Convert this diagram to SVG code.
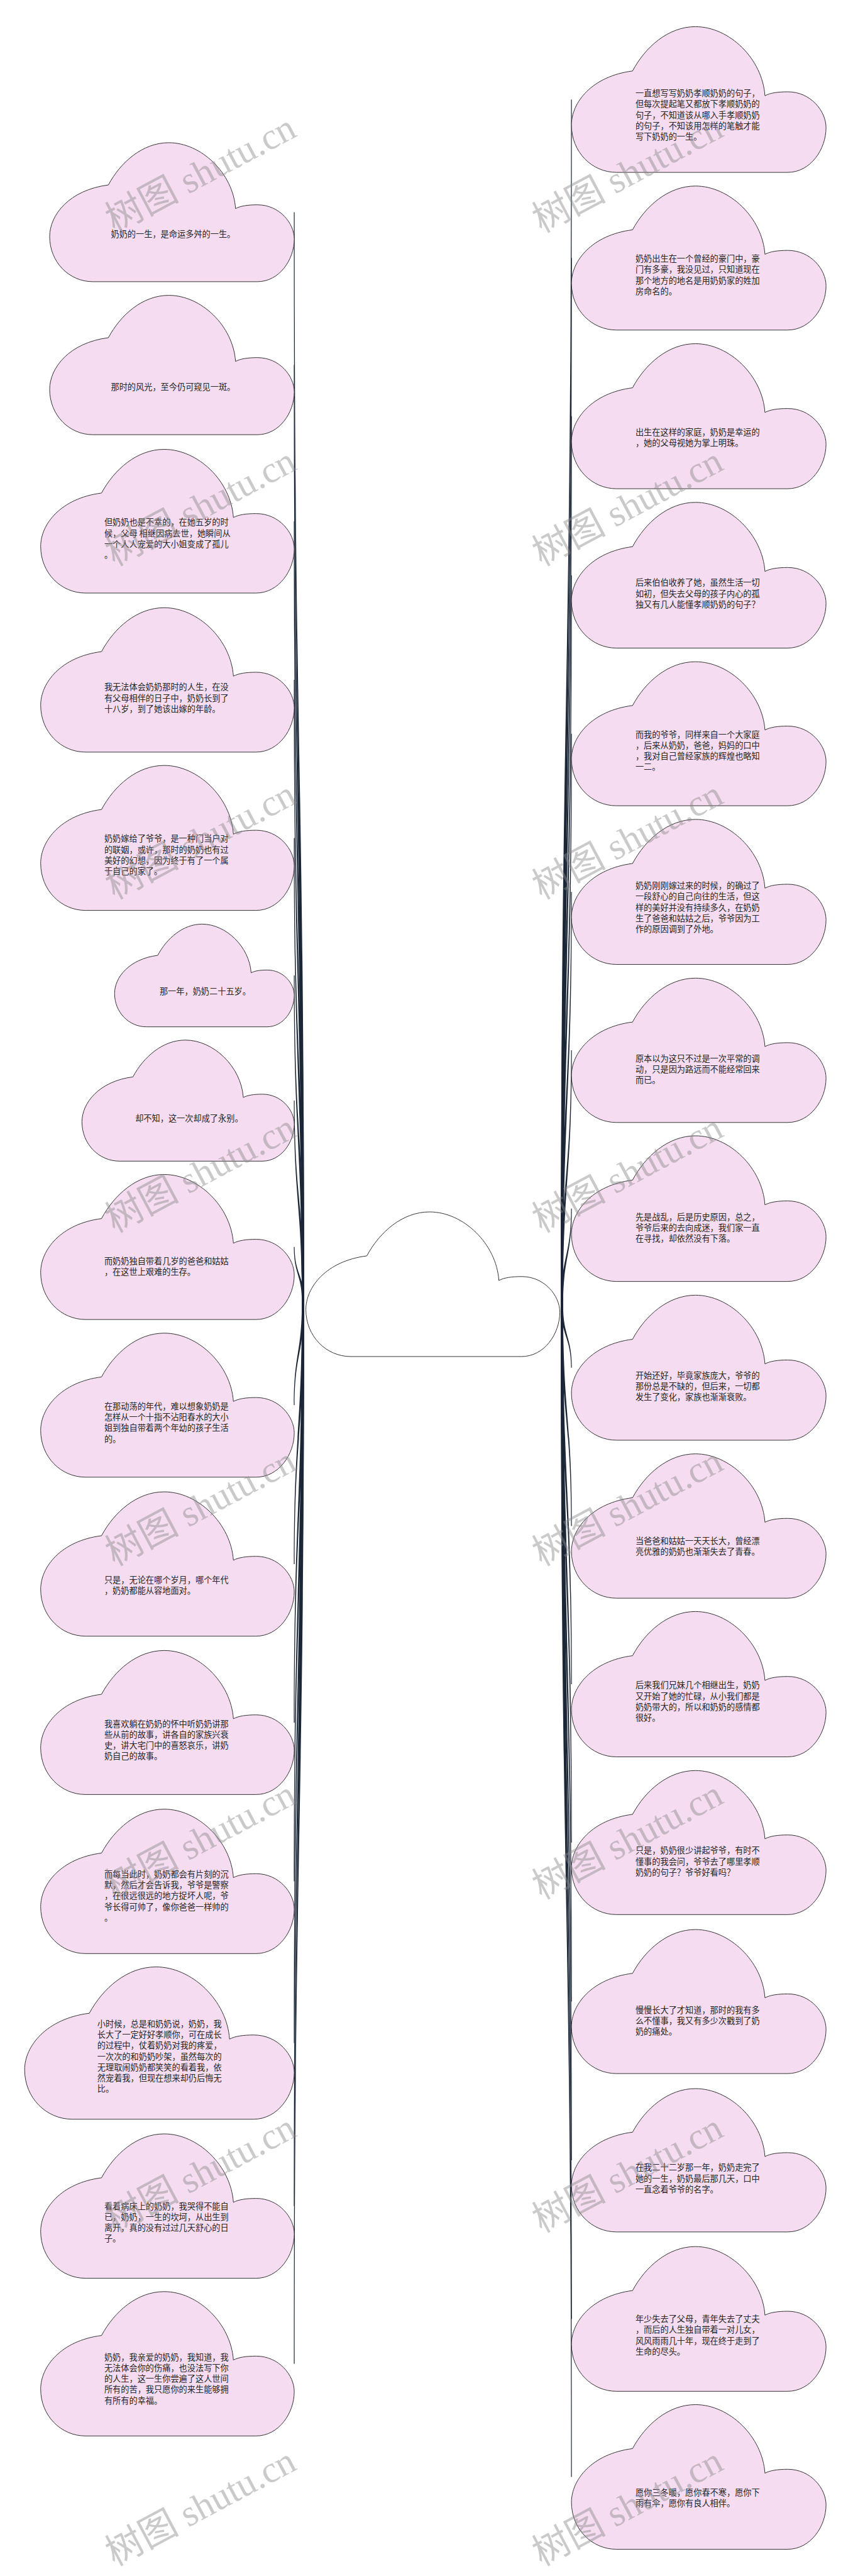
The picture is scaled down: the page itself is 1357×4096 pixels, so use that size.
<svg xmlns="http://www.w3.org/2000/svg" xmlns:xlink="http://www.w3.org/1999/xlink" width="1357" height="4096" viewBox="0 0 1357 4096">
<style>
.n{fill:#f5dcf0;stroke:#333;stroke-width:1}
.root{fill:#ffffff;stroke:#333;stroke-width:1}
.t{font-family:"Noto Sans CJK SC","Noto Sans",sans-serif;font-size:13.2px;fill:#262626}
.c{fill:#1b2636;stroke:none}
.wm{font-family:"Liberation Serif","Noto Sans CJK SC",serif;font-size:59px;fill:#8a8a8a;fill-opacity:0.45}
</style>
<defs>
<path id="cloud" vector-effect="non-scaling-stroke" d="M24,30.4 C29,14 38,0 48.7,0 C62,0 75,22 76,47.4 C78,45.5 81,44.7 85,44.7 C94,44.7 100,58 100,69.3 C100,84 94,100 84.9,100 L17.7,100 C8,100 0,86 0,67.5 C0,52 8,34 24,30.4 Z"/>
</defs>
<rect width="1357" height="4096" fill="#ffffff"/>
<g id="connectors">
<path class="c" d="M467.5,337.4 C467.5,1203.7 480.2,1203.7 480.2,2070 L483.8,2070 C483.8,1203.7 468.7,1203.7 468.7,337.4 Z"/>
<path class="c" d="M467.5,580.4 C467.5,1325.2 480.2,1325.2 480.2,2070 L483.8,2070 C483.8,1325.2 468.7,1325.2 468.7,580.4 Z"/>
<path class="c" d="M467.5,828.8 C467.5,1449.4 480.2,1449.4 480.2,2070 L483.8,2070 C483.8,1449.4 468.7,1449.4 468.7,828.8 Z"/>
<path class="c" d="M467.5,1081.1 C467.5,1575.6 480.2,1575.6 480.2,2070 L483.8,2070 C483.8,1575.6 468.7,1575.6 468.7,1081.1 Z"/>
<path class="c" d="M467.5,1332.4 C467.5,1701.2 480.2,1701.2 480.2,2070 L483.8,2070 C483.8,1701.2 468.7,1701.2 468.7,1332.4 Z"/>
<path class="c" d="M467.5,1551.1 C467.5,1810.6 480.2,1810.6 480.2,2070 L483.8,2070 C483.8,1810.6 468.7,1810.6 468.7,1551.1 Z"/>
<path class="c" d="M467.5,1750.1 C467.5,1910.1 480.2,1910.1 480.2,2070 L483.8,2070 C483.8,1910.1 468.7,1910.1 468.7,1750.1 Z"/>
<path class="c" d="M467.5,1982.8 C467.5,2026.4 480.2,2026.4 480.2,2070 L483.8,2070 C483.8,2026.4 468.7,2026.4 468.7,1982.8 Z"/>
<path class="c" d="M467.5,2234.3 C467.5,2152.2 480.2,2152.2 480.2,2070 L483.8,2070 C483.8,2152.2 468.7,2152.2 468.7,2234.3 Z"/>
<path class="c" d="M467.5,2486.9 C467.5,2278.5 480.2,2278.5 480.2,2070 L483.8,2070 C483.8,2278.5 468.7,2278.5 468.7,2486.9 Z"/>
<path class="c" d="M467.5,2738.9 C467.5,2404.5 480.2,2404.5 480.2,2070 L483.8,2070 C483.8,2404.5 468.7,2404.5 468.7,2738.9 Z"/>
<path class="c" d="M467.5,2991.5 C467.5,2530.8 480.2,2530.8 480.2,2070 L483.8,2070 C483.8,2530.8 468.7,2530.8 468.7,2991.5 Z"/>
<path class="c" d="M467.5,3248.6 C467.5,2659.3 480.2,2659.3 480.2,2070 L483.8,2070 C483.8,2659.3 468.7,2659.3 468.7,3248.6 Z"/>
<path class="c" d="M467.5,3507.8 C467.5,2788.9 480.2,2788.9 480.2,2070 L483.8,2070 C483.8,2788.9 468.7,2788.9 468.7,3507.8 Z"/>
<path class="c" d="M467.5,3758.6 C467.5,2914.3 480.2,2914.3 480.2,2070 L483.8,2070 C483.8,2914.3 468.7,2914.3 468.7,3758.6 Z"/>
<path class="c" d="M909.7,158.3 C909.7,1116.7 895.8,1116.7 895.8,2075 L892.2,2075 C892.2,1116.7 908.5,1116.7 908.5,158.3 Z"/>
<path class="c" d="M909.7,410.3 C909.7,1242.7 895.8,1242.7 895.8,2075 L892.2,2075 C892.2,1242.7 908.5,1242.7 908.5,410.3 Z"/>
<path class="c" d="M909.7,661.8 C909.7,1368.4 895.8,1368.4 895.8,2075 L892.2,2075 C892.2,1368.4 908.5,1368.4 908.5,661.8 Z"/>
<path class="c" d="M909.7,914.7 C909.7,1494.9 895.8,1494.9 895.8,2075 L892.2,2075 C892.2,1494.9 908.5,1494.9 908.5,914.7 Z"/>
<path class="c" d="M909.7,1166.7 C909.7,1620.9 895.8,1620.9 895.8,2075 L892.2,2075 C892.2,1620.9 908.5,1620.9 908.5,1166.7 Z"/>
<path class="c" d="M909.7,1418.2 C909.7,1746.6 895.8,1746.6 895.8,2075 L892.2,2075 C892.2,1746.6 908.5,1746.6 908.5,1418.2 Z"/>
<path class="c" d="M909.7,1670.1 C909.7,1872.6 895.8,1872.6 895.8,2075 L892.2,2075 C892.2,1872.6 908.5,1872.6 908.5,1670.1 Z"/>
<path class="c" d="M909.7,1921.8 C909.7,1998.4 895.8,1998.4 895.8,2075 L892.2,2075 C892.2,1998.4 908.5,1998.4 908.5,1921.8 Z"/>
<path class="c" d="M909.7,2174.7 C909.7,2124.9 895.8,2124.9 895.8,2075 L892.2,2075 C892.2,2124.9 908.5,2124.9 908.5,2174.7 Z"/>
<path class="c" d="M909.7,2426.5 C909.7,2250.8 895.8,2250.8 895.8,2075 L892.2,2075 C892.2,2250.8 908.5,2250.8 908.5,2426.5 Z"/>
<path class="c" d="M909.7,2678.0 C909.7,2376.5 895.8,2376.5 895.8,2075 L892.2,2075 C892.2,2376.5 908.5,2376.5 908.5,2678.0 Z"/>
<path class="c" d="M909.7,2929.8 C909.7,2502.4 895.8,2502.4 895.8,2075 L892.2,2075 C892.2,2502.4 908.5,2502.4 908.5,2929.8 Z"/>
<path class="c" d="M909.7,3182.6 C909.7,2628.8 895.8,2628.8 895.8,2075 L892.2,2075 C892.2,2628.8 908.5,2628.8 908.5,3182.6 Z"/>
<path class="c" d="M909.7,3435.0 C909.7,2755.0 895.8,2755.0 895.8,2075 L892.2,2075 C892.2,2755.0 908.5,2755.0 908.5,3435.0 Z"/>
<path class="c" d="M909.7,3687.3 C909.7,2881.2 895.8,2881.2 895.8,2075 L892.2,2075 C892.2,2881.2 908.5,2881.2 908.5,3687.3 Z"/>
<path class="c" d="M909.7,3938.5 C909.7,3006.8 895.8,3006.8 895.8,2075 L892.2,2075 C892.2,3006.8 908.5,3006.8 908.5,3938.5 Z"/>
</g>
<g id="root"><use href="#cloud" class="root" transform="translate(486.6,1927) scale(4.04,2.30)"/></g>

<g id="L1"><use href="#cloud" class="n" transform="translate(79,226.9) scale(3.891,2.21)"/>
<text class="t" x="176.5" y="377.1">奶奶的一生，是命运多舛的一生。</text></g>
<g id="L2"><use href="#cloud" class="n" transform="translate(79,469.6) scale(3.891,2.216)"/>
<text class="t" x="176.5" y="619.9">那时的风光，至今仍可窥见一斑。</text></g>
<g id="L3"><use href="#cloud" class="n" transform="translate(64.7,714.5) scale(4.034,2.285)"/>
<text class="t" x="165.9" y="835.3"><tspan x="165.9">但奶奶也是不幸的，在她五岁的时</tspan><tspan x="165.9" dy="17.3">候，父母 相继因病去世，她瞬间从</tspan><tspan x="165.9" dy="17.3">一个人人宠爱的大小姐变成了孤儿</tspan><tspan x="165.9" dy="17.3">。</tspan></text></g>
<g id="L4"><use href="#cloud" class="n" transform="translate(64.7,966.3) scale(4.034,2.296)"/>
<text class="t" x="165.9" y="1097.2"><tspan x="165.9">我无法体会奶奶那时的人生，在没</tspan><tspan x="165.9" dy="17.3">有父母相伴的日子中，奶奶长到了</tspan><tspan x="165.9" dy="17.3">十八岁，到了她该出嫁的年龄。</tspan></text></g>
<g id="L5"><use href="#cloud" class="n" transform="translate(64.7,1217.1) scale(4.034,2.305)"/>
<text class="t" x="165.9" y="1338.4"><tspan x="165.9">奶奶嫁给了爷爷，是一种门当户对</tspan><tspan x="165.9" dy="17.3">的联姻，或许，那时的奶奶也有过</tspan><tspan x="165.9" dy="17.3">美好的幻想，因为终于有了一个属</tspan><tspan x="165.9" dy="17.3">于自己的家了。</tspan></text></g>
<g id="L6"><use href="#cloud" class="n" transform="translate(182.3,1469.4) scale(2.858,1.633)"/>
<text class="t" x="253.9" y="1580.6">那一年，奶奶二十五岁。</text></g>
<g id="L7"><use href="#cloud" class="n" transform="translate(130.4,1653.8) scale(3.377,1.925)"/>
<text class="t" x="215.2" y="1782.6">却不知，这一次却成了永别。</text></g>
<g id="L8"><use href="#cloud" class="n" transform="translate(64.7,1867.5) scale(4.034,2.306)"/>
<text class="t" x="165.9" y="2010"><tspan x="165.9">而奶奶独自带着几岁的爸爸和姑姑</tspan><tspan x="165.9" dy="17.3">，在这世上艰难的生存。</tspan></text></g>
<g id="L9"><use href="#cloud" class="n" transform="translate(64.7,2119.8) scale(4.034,2.29)"/>
<text class="t" x="165.9" y="2240.8"><tspan x="165.9">在那动荡的年代，难以想象奶奶是</tspan><tspan x="165.9" dy="17.3">怎样从一个十指不沾阳春水的大小</tspan><tspan x="165.9" dy="17.3">姐到独自带着两个年幼的孩子生活</tspan><tspan x="165.9" dy="17.3">的。</tspan></text></g>
<g id="L10"><use href="#cloud" class="n" transform="translate(64.7,2372.1) scale(4.034,2.295)"/>
<text class="t" x="165.9" y="2516.6"><tspan x="165.9">只是，无论在哪个岁月，哪个年代</tspan><tspan x="165.9" dy="17.3">，奶奶都能从容地面对。</tspan></text></g>
<g id="L11"><use href="#cloud" class="n" transform="translate(64.7,2624.4) scale(4.034,2.29)"/>
<text class="t" x="165.9" y="2745.5"><tspan x="165.9">我喜欢躺在奶奶的怀中听奶奶讲那</tspan><tspan x="165.9" dy="17.3">些从前的故事，讲各自的家族兴衰</tspan><tspan x="165.9" dy="17.3">史，讲大宅门中的喜怒哀乐，讲奶</tspan><tspan x="165.9" dy="17.3">奶自己的故事。</tspan></text></g>
<g id="L12"><use href="#cloud" class="n" transform="translate(64.7,2876.7) scale(4.034,2.296)"/>
<text class="t" x="165.9" y="2984.8"><tspan x="165.9">而每当此时，奶奶都会有片刻的沉</tspan><tspan x="165.9" dy="17.3">默，然后才会告诉我，爷爷是警察</tspan><tspan x="165.9" dy="17.3">，在很远很远的地方捉坏人呢，爷</tspan><tspan x="165.9" dy="17.3">爷长得可帅了，像你爸爸一样帅的</tspan><tspan x="165.9" dy="17.3">。</tspan></text></g>
<g id="L13"><use href="#cloud" class="n" transform="translate(39.2,3127.5) scale(4.289,2.422)"/>
<text class="t" x="154.8" y="3222.6"><tspan x="154.8">小时候，总是和奶奶说，奶奶，我</tspan><tspan x="154.8" dy="17.3">长大了一定好好孝顺你，可在成长</tspan><tspan x="154.8" dy="17.3">的过程中，仗着奶奶对我的疼爱，</tspan><tspan x="154.8" dy="17.3">一次次的和奶奶吵架，虽然每次的</tspan><tspan x="154.8" dy="17.3">无理取闹奶奶都笑笑的看着我，依</tspan><tspan x="154.8" dy="17.3">然宠着我，但现在想来却仍后悔无</tspan><tspan x="154.8" dy="17.3">比。</tspan></text></g>
<g id="L14"><use href="#cloud" class="n" transform="translate(64.7,3393) scale(4.034,2.296)"/>
<text class="t" x="165.9" y="3512.5"><tspan x="165.9">看着病床上的奶奶，我哭得不能自</tspan><tspan x="165.9" dy="17.3">已，奶奶，一生的坎坷，从出生到</tspan><tspan x="165.9" dy="17.3">离开，真的没有过过几天舒心的日</tspan><tspan x="165.9" dy="17.3">子。</tspan></text></g>
<g id="L15"><use href="#cloud" class="n" transform="translate(64.7,3643.8) scale(4.034,2.295)"/>
<text class="t" x="165.9" y="3752.5"><tspan x="165.9">奶奶，我亲爱的奶奶，我知道，我</tspan><tspan x="165.9" dy="17.3">无法体会你的伤痛，也没法写下你</tspan><tspan x="165.9" dy="17.3">的人生，这一生你尝遍了这人世间</tspan><tspan x="165.9" dy="17.3">所有的苦，我只愿你的来生能够拥</tspan><tspan x="165.9" dy="17.3">有所有的幸福。</tspan></text></g>

<g id="R1"><use href="#cloud" class="n" transform="translate(909.1,42.4) scale(4.05,2.317)"/>
<text class="t" x="1010.9" y="153.1"><tspan x="1010.9">一直想写写奶奶孝顺奶奶的句子，</tspan><tspan x="1010.9" dy="17.3">但每次提起笔又都放下孝顺奶奶的</tspan><tspan x="1010.9" dy="17.3">句子，不知道该从哪入手孝顺奶奶</tspan><tspan x="1010.9" dy="17.3">的句子，不知该用怎样的笔触才能</tspan><tspan x="1010.9" dy="17.3">写下奶奶的一生。</tspan></text></g>
<g id="R2"><use href="#cloud" class="n" transform="translate(909.1,295.8) scale(4.05,2.29)"/>
<text class="t" x="1010.9" y="416"><tspan x="1010.9">奶奶出生在一个曾经的豪门中，豪</tspan><tspan x="1010.9" dy="17.3">门有多豪，我没见过，只知道现在</tspan><tspan x="1010.9" dy="17.3">那个地方的地名是用奶奶家的姓加</tspan><tspan x="1010.9" dy="17.3">房命名的。</tspan></text></g>
<g id="R3"><use href="#cloud" class="n" transform="translate(909.1,546.5) scale(4.05,2.306)"/>
<text class="t" x="1010.9" y="691.7"><tspan x="1010.9">出生在这样的家庭，奶奶是幸运的</tspan><tspan x="1010.9" dy="17.3">，她的父母视她为掌上明珠。</tspan></text></g>
<g id="R4"><use href="#cloud" class="n" transform="translate(909.1,798.8) scale(4.05,2.317)"/>
<text class="t" x="1010.9" y="931.3"><tspan x="1010.9">后来伯伯收养了她，虽然生活一切</tspan><tspan x="1010.9" dy="17.3">如初，但失去父母的孩子内心的孤</tspan><tspan x="1010.9" dy="17.3">独又有几人能懂孝顺奶奶的句子？</tspan></text></g>
<g id="R5"><use href="#cloud" class="n" transform="translate(909.1,1052.2) scale(4.05,2.29)"/>
<text class="t" x="1010.9" y="1172.5"><tspan x="1010.9">而我的爷爷，同样来自一个大家庭</tspan><tspan x="1010.9" dy="17.3">，后来从奶奶，爸爸，妈妈的口中</tspan><tspan x="1010.9" dy="17.3">，我对自己曾经家族的辉煌也略知</tspan><tspan x="1010.9" dy="17.3">一二。</tspan></text></g>
<g id="R6"><use href="#cloud" class="n" transform="translate(909.1,1302.9) scale(4.05,2.306)"/>
<text class="t" x="1010.9" y="1413.1"><tspan x="1010.9">奶奶刚刚嫁过来的时候，的确过了</tspan><tspan x="1010.9" dy="17.3">一段舒心的自己向往的生活，但这</tspan><tspan x="1010.9" dy="17.3">样的美好并没有持续多久，在奶奶</tspan><tspan x="1010.9" dy="17.3">生了爸爸和姑姑之后，爷爷因为工</tspan><tspan x="1010.9" dy="17.3">作的原因调到了外地。</tspan></text></g>
<g id="R7"><use href="#cloud" class="n" transform="translate(909.1,1555.3) scale(4.05,2.295)"/>
<text class="t" x="1010.9" y="1687.7"><tspan x="1010.9">原本以为这只不过是一次平常的调</tspan><tspan x="1010.9" dy="17.3">动，只是因为路远而不能经常回来</tspan><tspan x="1010.9" dy="17.3">而已。</tspan></text></g>
<g id="R8"><use href="#cloud" class="n" transform="translate(909.1,1806) scale(4.05,2.316)"/>
<text class="t" x="1010.9" y="1939.5"><tspan x="1010.9">先是战乱，后是历史原因，总之，</tspan><tspan x="1010.9" dy="17.3">爷爷后来的去向成迷，我们家一直</tspan><tspan x="1010.9" dy="17.3">在寻找，却依然没有下落。</tspan></text></g>
<g id="R9"><use href="#cloud" class="n" transform="translate(909.1,2059.4) scale(4.05,2.306)"/>
<text class="t" x="1010.9" y="2191.8"><tspan x="1010.9">开始还好，毕竟家族庞大，爷爷的</tspan><tspan x="1010.9" dy="17.3">那份总是不缺的，但后来，一切都</tspan><tspan x="1010.9" dy="17.3">发生了变化，家族也渐渐衰败。</tspan></text></g>
<g id="R10"><use href="#cloud" class="n" transform="translate(909.1,2311.7) scale(4.05,2.295)"/>
<text class="t" x="1010.9" y="2454.7"><tspan x="1010.9">当爸爸和姑姑一天天长大，曾经漂</tspan><tspan x="1010.9" dy="17.3">亮优雅的奶奶也渐渐失去了青春。</tspan></text></g>
<g id="R11"><use href="#cloud" class="n" transform="translate(909.1,2562.4) scale(4.05,2.311)"/>
<text class="t" x="1010.9" y="2684.3"><tspan x="1010.9">后来我们兄妹几个相继出生，奶奶</tspan><tspan x="1010.9" dy="17.3">又开始了她的忙碌，从小我们都是</tspan><tspan x="1010.9" dy="17.3">奶奶带大的，所以和奶奶的感情都</tspan><tspan x="1010.9" dy="17.3">很好。</tspan></text></g>
<g id="R12"><use href="#cloud" class="n" transform="translate(909.1,2815.3) scale(4.05,2.29)"/>
<text class="t" x="1010.9" y="2947.2"><tspan x="1010.9">只是，奶奶很少讲起爷爷，有时不</tspan><tspan x="1010.9" dy="17.3">懂事的我会问，爷爷去了哪里孝顺</tspan><tspan x="1010.9" dy="17.3">奶奶的句子？爷爷好看吗？</tspan></text></g>
<g id="R13"><use href="#cloud" class="n" transform="translate(909.1,3068.1) scale(4.05,2.29)"/>
<text class="t" x="1010.9" y="3200.6"><tspan x="1010.9">慢慢长大了才知道，那时的我有多</tspan><tspan x="1010.9" dy="17.3">么不懂事，我又有多少次戳到了奶</tspan><tspan x="1010.9" dy="17.3">奶的痛处。</tspan></text></g>
<g id="R14"><use href="#cloud" class="n" transform="translate(909.1,3321) scale(4.05,2.279)"/>
<text class="t" x="1010.9" y="3451.3"><tspan x="1010.9">在我二十二岁那一年，奶奶走完了</tspan><tspan x="1010.9" dy="17.3">她的一生，奶奶最后那几天，口中</tspan><tspan x="1010.9" dy="17.3">一直念着爷爷的名字。</tspan></text></g>
<g id="R15"><use href="#cloud" class="n" transform="translate(909.1,3572.2) scale(4.05,2.301)"/>
<text class="t" x="1010.9" y="3692"><tspan x="1010.9">年少失去了父母，青年失去了丈夫</tspan><tspan x="1010.9" dy="17.3">，而后的人生独自带着一对儿女，</tspan><tspan x="1010.9" dy="17.3">风风雨雨几十年，现在终于走到了</tspan><tspan x="1010.9" dy="17.3">生命的尽头。</tspan></text></g>
<g id="R16"><use href="#cloud" class="n" transform="translate(909.1,3823.5) scale(4.05,2.30)"/>
<text class="t" x="1010.9" y="3968.1"><tspan x="1010.9">愿你三冬暖，愿你春不寒，愿你下</tspan><tspan x="1010.9" dy="17.3">雨有伞，愿你有良人相伴。</tspan></text></g>

<g id="watermark">
<text class="wm" transform="translate(182.3,371) rotate(-28)">树图 shutu.cn</text>
<text class="wm" transform="translate(861.4,371) rotate(-28)">树图 shutu.cn</text>
<text class="wm" transform="translate(182.3,901) rotate(-28)">树图 shutu.cn</text>
<text class="wm" transform="translate(861.4,901) rotate(-28)">树图 shutu.cn</text>
<text class="wm" transform="translate(182.3,1431) rotate(-28)">树图 shutu.cn</text>
<text class="wm" transform="translate(861.4,1431) rotate(-28)">树图 shutu.cn</text>
<text class="wm" transform="translate(182.3,1961) rotate(-28)">树图 shutu.cn</text>
<text class="wm" transform="translate(861.4,1961) rotate(-28)">树图 shutu.cn</text>
<text class="wm" transform="translate(182.3,2491) rotate(-28)">树图 shutu.cn</text>
<text class="wm" transform="translate(861.4,2491) rotate(-28)">树图 shutu.cn</text>
<text class="wm" transform="translate(182.3,3021) rotate(-28)">树图 shutu.cn</text>
<text class="wm" transform="translate(861.4,3021) rotate(-28)">树图 shutu.cn</text>
<text class="wm" transform="translate(182.3,3551) rotate(-28)">树图 shutu.cn</text>
<text class="wm" transform="translate(861.4,3551) rotate(-28)">树图 shutu.cn</text>
<text class="wm" transform="translate(182.3,4081) rotate(-28)">树图 shutu.cn</text>
<text class="wm" transform="translate(861.4,4081) rotate(-28)">树图 shutu.cn</text>
</g>
</svg>
